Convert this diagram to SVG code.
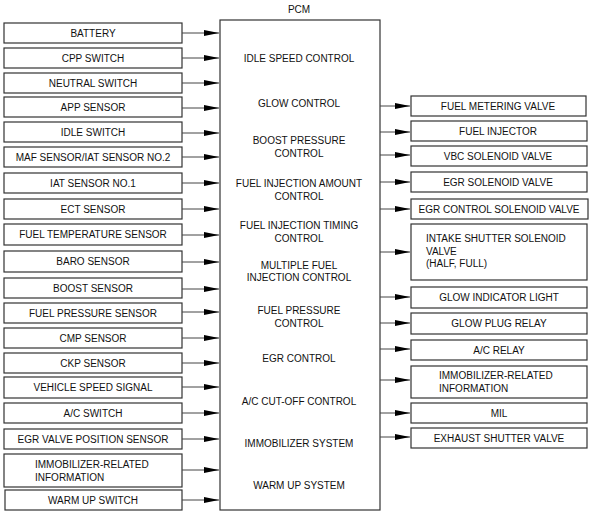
<svg xmlns="http://www.w3.org/2000/svg" width="591" height="513" viewBox="0 0 591 513">
<style>
.b{fill:#fff;stroke:#333;stroke-width:1.2}
.t{font-family:"Liberation Sans",Arial,sans-serif;font-size:10px;fill:#111;text-anchor:middle}
.l{font-family:"Liberation Sans",Arial,sans-serif;font-size:10px;fill:#111}
.c{stroke:#444;stroke-width:1;fill:none;marker-end:url(#ah)}
</style>
<defs>
<marker id="ah" markerUnits="userSpaceOnUse" markerWidth="15" markerHeight="7" refX="15" refY="3.5" orient="auto">
<path d="M0,0.5 L15,3.5 L0,6.5 z" fill="#000"/>
</marker>
</defs>
<rect width="591" height="513" fill="#fff"/>
<g id="pcm">
<text class="t" x="299" y="13">PCM</text>
<rect class="b" x="220" y="20" width="160" height="490"/>
<text class="t" x="299" y="62">IDLE SPEED CONTROL</text>
<text class="t" x="299" y="107">GLOW CONTROL</text>
<text class="t" x="299" y="144">BOOST PRESSURE</text>
<text class="t" x="299" y="157">CONTROL</text>
<text class="t" x="299" y="187">FUEL INJECTION AMOUNT</text>
<text class="t" x="299" y="200">CONTROL</text>
<text class="t" x="299" y="229">FUEL INJECTION TIMING</text>
<text class="t" x="299" y="242">CONTROL</text>
<text class="t" x="299" y="269">MULTIPLE FUEL</text>
<text class="t" x="299" y="281">INJECTION CONTROL</text>
<text class="t" x="299" y="314">FUEL PRESSURE</text>
<text class="t" x="299" y="327">CONTROL</text>
<text class="t" x="299" y="362">EGR CONTROL</text>
<text class="t" x="299" y="405">A/C CUT-OFF CONTROL</text>
<text class="t" x="299" y="447">IMMOBILIZER SYSTEM</text>
<text class="t" x="299" y="489">WARM UP SYSTEM</text>
</g>
<g id="inputs">
<g id="in-battery"><rect class="b" x="4" y="23" width="178" height="20"/><text class="t" x="93" y="36.5">BATTERY</text></g>
<g id="in-cpp"><rect class="b" x="4" y="48" width="178" height="20"/><text class="t" x="93" y="61.5">CPP SWITCH</text></g>
<g id="in-neutral"><rect class="b" x="4" y="73" width="178" height="20"/><text class="t" x="93" y="86.5">NEUTRAL SWITCH</text></g>
<g id="in-app"><rect class="b" x="4" y="97" width="178" height="20"/><text class="t" x="93" y="110.5">APP SENSOR</text></g>
<g id="in-idle"><rect class="b" x="4" y="122" width="178" height="20"/><text class="t" x="93" y="135.5">IDLE SWITCH</text></g>
<g id="in-maf"><rect class="b" x="4" y="147" width="178" height="20"/><text class="t" x="93" y="160.5">MAF SENSOR/IAT SENSOR NO.2</text></g>
<g id="in-iat"><rect class="b" x="4" y="173" width="178" height="20"/><text class="t" x="93" y="186.5">IAT SENSOR NO.1</text></g>
<g id="in-ect"><rect class="b" x="4" y="199" width="178" height="20"/><text class="t" x="93" y="212.5">ECT SENSOR</text></g>
<g id="in-fueltemp"><rect class="b" x="4" y="224" width="178" height="21"/><text class="t" x="93" y="238">FUEL TEMPERATURE SENSOR</text></g>
<g id="in-baro"><rect class="b" x="4" y="251" width="178" height="21"/><text class="t" x="93" y="265">BARO SENSOR</text></g>
<g id="in-boost"><rect class="b" x="4" y="278" width="178" height="20"/><text class="t" x="93" y="291.5">BOOST SENSOR</text></g>
<g id="in-fuelpress"><rect class="b" x="4" y="303" width="178" height="20"/><text class="t" x="93" y="316.5">FUEL PRESSURE SENSOR</text></g>
<g id="in-cmp"><rect class="b" x="4" y="328" width="178" height="20"/><text class="t" x="93" y="341.5">CMP SENSOR</text></g>
<g id="in-ckp"><rect class="b" x="4" y="353" width="178" height="20"/><text class="t" x="93" y="366.5">CKP SENSOR</text></g>
<g id="in-vss"><rect class="b" x="4" y="377" width="178" height="21"/><text class="t" x="93" y="391">VEHICLE SPEED SIGNAL</text></g>
<g id="in-ac"><rect class="b" x="4" y="403" width="178" height="20"/><text class="t" x="93" y="416.5">A/C SWITCH</text></g>
<g id="in-egrpos"><rect class="b" x="4" y="429" width="178" height="20"/><text class="t" x="93" y="442.5">EGR VALVE POSITION SENSOR</text></g>
<g id="in-immob"><rect class="b" x="4" y="454" width="178" height="33"/><text class="l" x="35" y="468">IMMOBILIZER-RELATED</text><text class="l" x="35" y="481">INFORMATION</text></g>
<g id="in-warmup"><rect class="b" x="5" y="490" width="177" height="20"/><text class="t" x="93" y="503.5">WARM UP SWITCH</text></g>
</g>
<g id="outputs">
<g id="out-fmv"><rect class="b" x="411" y="96" width="175" height="20"/><text class="t" x="498" y="109.5">FUEL METERING VALVE</text></g>
<g id="out-inj"><rect class="b" x="411" y="121" width="176" height="20"/><text class="t" x="498" y="134.5">FUEL INJECTOR</text></g>
<g id="out-vbc"><rect class="b" x="411" y="146" width="176" height="20"/><text class="t" x="498" y="159.5">VBC SOLENOID VALVE</text></g>
<g id="out-egrsol"><rect class="b" x="411" y="172" width="176" height="20"/><text class="t" x="498" y="185.5">EGR SOLENOID VALVE</text></g>
<g id="out-egrctl"><rect class="b" x="411" y="199" width="177" height="20"/><text class="t" x="499" y="212.5">EGR CONTROL SOLENOID VALVE</text></g>
<g id="out-intake"><rect class="b" x="411" y="224" width="176" height="56"/><text class="l" x="426" y="242">INTAKE SHUTTER SOLENOID</text><text class="l" x="426" y="254.5">VALVE</text><text class="l" x="426" y="267">(HALF, FULL)</text></g>
<g id="out-glowind"><rect class="b" x="411" y="287" width="176" height="21"/><text class="t" x="499" y="301">GLOW INDICATOR LIGHT</text></g>
<g id="out-glowplug"><rect class="b" x="411" y="313" width="176" height="21"/><text class="t" x="499" y="327">GLOW PLUG RELAY</text></g>
<g id="out-acrelay"><rect class="b" x="411" y="340" width="176" height="20"/><text class="t" x="499" y="353.5">A/C RELAY</text></g>
<g id="out-immob"><rect class="b" x="411" y="366" width="176" height="32"/><text class="l" x="439" y="379">IMMOBILIZER-RELATED</text><text class="l" x="439" y="391.5">INFORMATION</text></g>
<g id="out-mil"><rect class="b" x="411" y="403" width="176" height="20"/><text class="t" x="499" y="416.5">MIL</text></g>
<g id="out-exhaust"><rect class="b" x="411" y="428" width="176" height="20"/><text class="t" x="499" y="441.5">EXHAUST SHUTTER VALVE</text></g>
</g>
<g id="connectors">
<line class="c" x1="182" y1="33" x2="219" y2="33"/>
<line class="c" x1="182" y1="58" x2="219" y2="58"/>
<line class="c" x1="182" y1="83" x2="219" y2="83"/>
<line class="c" x1="182" y1="108" x2="219" y2="108"/>
<line class="c" x1="182" y1="133" x2="219" y2="133"/>
<line class="c" x1="182" y1="157" x2="219" y2="157"/>
<line class="c" x1="182" y1="183" x2="219" y2="183"/>
<line class="c" x1="182" y1="209" x2="219" y2="209"/>
<line class="c" x1="182" y1="235" x2="219" y2="235"/>
<line class="c" x1="182" y1="262" x2="219" y2="262"/>
<line class="c" x1="182" y1="289" x2="219" y2="289"/>
<line class="c" x1="182" y1="312" x2="219" y2="312"/>
<line class="c" x1="182" y1="338" x2="219" y2="338"/>
<line class="c" x1="182" y1="363" x2="219" y2="363"/>
<line class="c" x1="182" y1="387" x2="219" y2="387"/>
<line class="c" x1="182" y1="413" x2="219" y2="413"/>
<line class="c" x1="182" y1="439" x2="219" y2="439"/>
<line class="c" x1="182" y1="470" x2="219" y2="470"/>
<line class="c" x1="182" y1="500" x2="219" y2="500"/>
<line class="c" x1="380" y1="106" x2="410" y2="106"/>
<line class="c" x1="380" y1="132" x2="410" y2="132"/>
<line class="c" x1="380" y1="155" x2="410" y2="155"/>
<line class="c" x1="380" y1="182" x2="410" y2="182"/>
<line class="c" x1="380" y1="209" x2="410" y2="209"/>
<line class="c" x1="380" y1="252" x2="410" y2="252"/>
<line class="c" x1="380" y1="297" x2="410" y2="297"/>
<line class="c" x1="380" y1="323" x2="410" y2="323"/>
<line class="c" x1="380" y1="349" x2="410" y2="349"/>
<line class="c" x1="380" y1="380" x2="410" y2="380"/>
<line class="c" x1="380" y1="413" x2="410" y2="413"/>
<line class="c" x1="380" y1="437" x2="410" y2="437"/>
</g>
</svg>
